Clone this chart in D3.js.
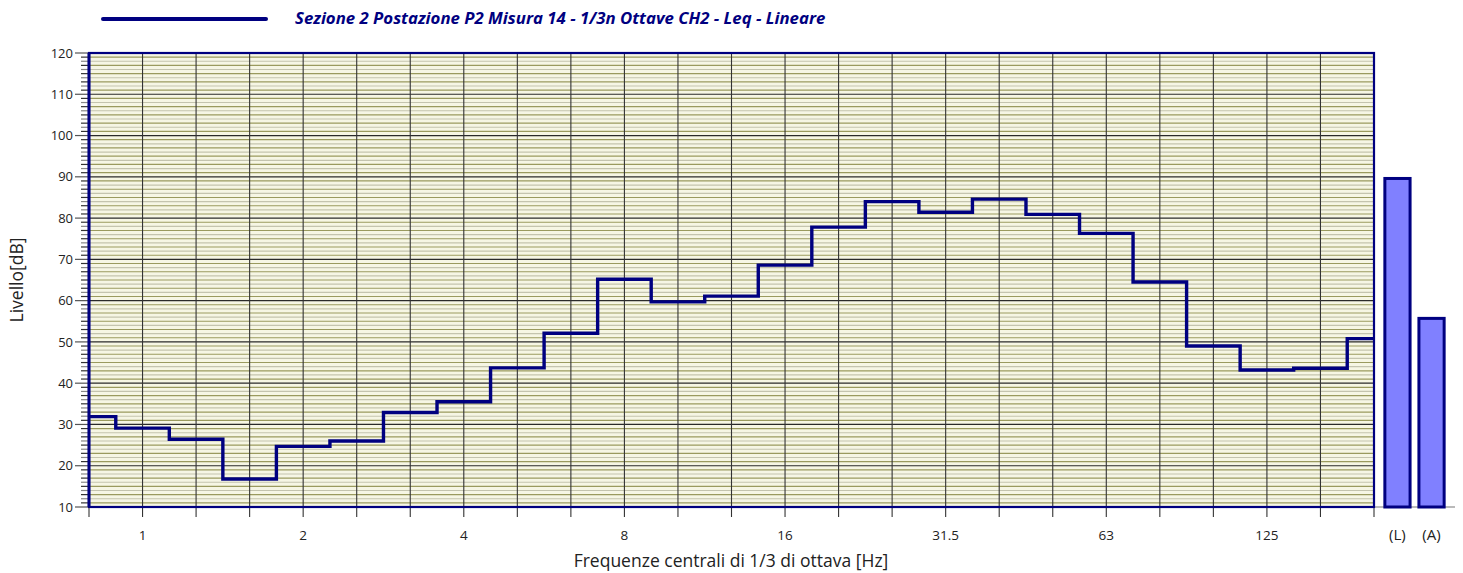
<!DOCTYPE html>
<html>
<head>
<meta charset="utf-8">
<script src="https://cdn.jsdelivr.net/npm/d3@7"></script>
<style>
  html, body { margin: 0; padding: 0; background: #ffffff; }
  svg { display: block; }
  text { font-family: "Open Sans", "Noto Sans", sans-serif; }
</style>
</head>
<body>
<svg id="chart" width="1463" height="573"></svg>
<script>
// 1/3-octave band centres (Hz) and measured Leq levels (dB, linear weighting)
const bands = ["0.8","1","1.25","1.6","2","2.5","3.15","4","5","6.3","8","10","12.5","16","20","25","31.5","40","50","63","80","100","125","160","200"];
const levels = [31.9,29.1,26.4,16.8,24.7,26.0,32.9,35.5,43.7,52.1,65.2,59.7,61.1,68.6,77.8,84.0,81.4,84.6,80.9,76.3,64.5,49.0,43.2,43.6,50.8];

// Octave bands that carry a label on the frequency axis
const tickLabels = ["1","2","4","8","16","31.5","63","125"];

// Overall levels: linear (L) and A-weighted (A)
const totals = ["(L)","(A)"];
const totalValues = [89.6, 55.7];

// Level axis
const yTicks = [10,20,30,40,50,60,70,80,90,100,110,120];

const legendText = "Sezione 2 Postazione P2 Misura 14 - 1/3n Ottave CH2 - Leq - Lineare";

const svg = d3.select("#chart");
const plot = { left: 89, right: 1374, top: 53, bottom: 507 };
const navy = "#000080";

const x = d3.scaleLinear().domain([0, bands.length - 1]).range([plot.left, plot.right]);
const y = d3.scaleLinear().domain([10, 120]).range([plot.bottom, plot.top]);
const xb = d3.scaleBand().domain(totals).range([1376, 1453]).paddingInner(0.26).paddingOuter(0.26);

// Plot background
svg.append("rect")
  .attr("x", plot.left).attr("y", plot.top)
  .attr("width", plot.right - plot.left).attr("height", plot.bottom - plot.top)
  .attr("fill", "#f6f6e4");

// 1 dB grid lines, alternating olive / pale khaki
const minor = d3.range(11, 120).filter(v => v % 10 !== 0);
svg.append("g").selectAll("line").data(minor).join("line")
  .attr("x1", plot.left).attr("x2", plot.right)
  .attr("y1", d => y(d)).attr("y2", d => y(d))
  .attr("stroke", d => d % 2 ? "#9a9a5e" : "#c4c4ae")
  .attr("stroke-width", 1.15);

// 10 dB grid lines
svg.append("g").selectAll("line").data(yTicks.slice(1, -1)).join("line")
  .attr("x1", plot.left).attr("x2", plot.right)
  .attr("y1", d => y(d)).attr("y2", d => y(d))
  .attr("stroke", "#2a2a2a").attr("stroke-width", 1.2);

// Vertical grid at each band centre
svg.append("g").selectAll("line").data(d3.range(1, bands.length - 1)).join("line")
  .attr("x1", d => x(d)).attr("x2", d => x(d))
  .attr("y1", plot.top).attr("y2", plot.bottom)
  .attr("stroke", "#333333").attr("stroke-width", 1.1);

// Level axis: minor and major ticks, labels
const yAxis = svg.append("g");
yAxis.selectAll("line.minor").data(d3.range(10, 121)).join("line")
  .attr("class", "minor")
  .attr("x1", d => d % 10 === 0 ? 75 : 81).attr("x2", plot.left)
  .attr("y1", d => y(d)).attr("y2", d => y(d))
  .attr("stroke", d => d % 10 === 0 ? "#555" : (d % 2 ? "#333" : "#888"))
  .attr("stroke-width", 1.2);
yAxis.selectAll("text").data(yTicks).join("text")
  .attr("x", 73).attr("y", d => y(d))
  .attr("dy", "0.36em")
  .attr("text-anchor", "end")
  .attr("font-size", 13)
  .attr("fill", "#222")
  .text(d => d);

// Frequency axis ticks and labels
const xAxis = svg.append("g");
xAxis.selectAll("line").data(d3.range(bands.length)).join("line")
  .attr("x1", d => x(d)).attr("x2", d => x(d))
  .attr("y1", plot.bottom).attr("y2", plot.bottom + 10)
  .attr("stroke", "#333").attr("stroke-width", 1.1);
xAxis.selectAll("text").data(tickLabels).join("text")
  .attr("x", d => x(bands.indexOf(d))).attr("y", 540)
  .attr("text-anchor", "middle")
  .attr("font-size", 13.5)
  .attr("fill", "#222")
  .text(d => d);

// Baseline under the overall-level bars
svg.append("line")
  .attr("x1", plot.right).attr("x2", 1455)
  .attr("y1", plot.bottom).attr("y2", plot.bottom)
  .attr("stroke", "#777").attr("stroke-width", 1.2);

// Plot frame
svg.append("rect")
  .attr("x", plot.left).attr("y", plot.top)
  .attr("width", plot.right - plot.left).attr("height", plot.bottom - plot.top)
  .attr("fill", "none").attr("stroke", navy).attr("stroke-width", 2.2);
svg.append("line")
  .attr("x1", plot.left).attr("x2", plot.left)
  .attr("y1", plot.top).attr("y2", plot.bottom)
  .attr("stroke", navy).attr("stroke-width", 3);

// Spectrum as a step line (steps at the band edges)
const step = d3.line()
  .x((d, i) => x(i))
  .y(d => y(d))
  .curve(d3.curveStep);
svg.append("path")
  .datum(levels)
  .attr("d", step)
  .attr("fill", "none")
  .attr("stroke", navy)
  .attr("stroke-width", 3.4)
  .attr("stroke-linejoin", "miter");

// Overall level bars
svg.append("g").selectAll("rect").data(totalValues).join("rect")
  .attr("x", (d, i) => xb(totals[i]))
  .attr("y", d => y(d))
  .attr("width", xb.bandwidth())
  .attr("height", d => y(10) - y(d))
  .attr("fill", "#8080ff")
  .attr("stroke", navy)
  .attr("stroke-width", 3);
svg.append("g").selectAll("text").data(totals).join("text")
  .attr("x", d => xb(d) + xb.bandwidth() / 2)
  .attr("y", 540)
  .attr("text-anchor", "middle")
  .attr("font-size", 15)
  .attr("fill", "#222")
  .text(d => d);

// Axis titles
svg.append("text")
  .attr("transform", "translate(23,280) rotate(-90)")
  .attr("text-anchor", "middle")
  .attr("font-size", 17.5)
  .attr("fill", "#222")
  .text("Livello[dB]");
svg.append("text")
  .attr("x", 731).attr("y", 567)
  .attr("text-anchor", "middle")
  .attr("font-size", 17.5)
  .attr("fill", "#222")
  .text("Frequenze centrali di 1/3 di ottava [Hz]");

// Legend
svg.append("line")
  .attr("x1", 103).attr("x2", 266)
  .attr("y1", 19).attr("y2", 19)
  .attr("stroke", navy).attr("stroke-width", 4)
  .attr("stroke-linecap", "round");
svg.append("text")
  .attr("x", 295).attr("y", 24)
  .attr("font-size", 16.8)
  .attr("font-weight", "bold")
  .attr("font-style", "italic")
  .attr("fill", navy)
  .text(legendText);
</script>
</body>
</html>
